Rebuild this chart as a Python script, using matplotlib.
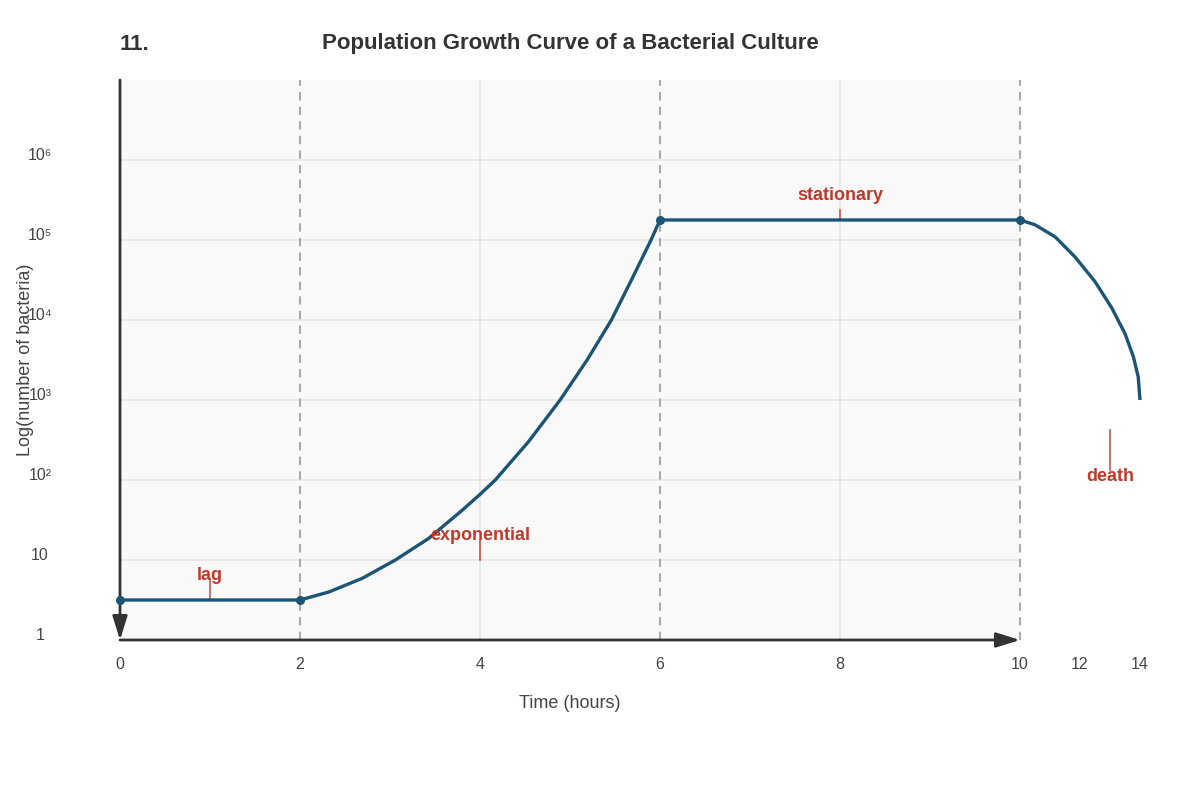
import numpy as np
import matplotlib
matplotlib.use('Agg')
import matplotlib.pyplot as plt

plt.rcParams['font.family'] = ['Liberation Sans', 'DejaVu Sans']

# phase curve (time in hours, log10 of bacteria count)
lag_t = [0, 2]
lag_v = [0.5, 0.5]
exp_t = [2.0, 2.32, 2.69, 3.06, 3.43, 3.8, 4.0, 4.17, 4.54, 4.89, 5.19, 5.46, 5.7, 5.9, 6.0]
exp_v = [0.5, 0.6, 0.77, 1.0, 1.27, 1.62, 1.82, 2.0, 2.48, 3.0, 3.5, 4.0, 4.54, 5.0, 5.25]
stat_t = [6, 10]
stat_v = [5.25, 5.25]
death_t = [10, 10.5, 11.17, 11.83, 12.5, 13.06, 13.5, 13.78, 13.94, 14.0]
death_v = [5.25, 5.19, 5.04, 4.79, 4.48, 4.15, 3.83, 3.54, 3.29, 3.0]

# phase boundaries
bound_t = [0, 2, 6, 10]
bound_v = [0.5, 0.5, 5.25, 5.25]

x_ticks = [0, 2, 4, 6, 8, 10, 12, 14]
y_ticks = [0, 1, 2, 3, 4, 5, 6]
y_labels = ['1', '10', '10²', '10³', '10⁴', '10⁵', '10⁶']

phase_names = ['lag', 'exponential', 'stationary', 'death']
phase_t = [1, 4, 8, 13]

LINE = '#1b5474'
RED = '#c0392b'
AXIS = '#333333'


def fwd(t):
    # hours after 10 are drawn at a third of the width
    t = np.asarray(t, dtype=float)
    return np.where(t <= 10, t, 10 + (t - 10) / 3)


def inv(p):
    p = np.asarray(p, dtype=float)
    return np.where(p <= 10, p, 10 + (p - 10) * 3)


fig = plt.figure(figsize=(12, 8), dpi=100)
ax = fig.add_axes([0.1, 0.2, 0.85, 0.7])
ax.set_xscale('function', functions=(fwd, inv))
ax.set_xlim(0, 14)
ax.set_ylim(0, 7)
ax.set_facecolor('none')
for s in ax.spines.values():
    s.set_visible(False)

# plot background and grid only over 0-10 h
ax.axvspan(0, 10, color='#f9f9f9', zorder=0, lw=0)
ax.hlines(y_ticks[1:], 0, 10, colors='#e6e6e6', lw=1.2, zorder=1)
ax.vlines([4, 8], 0, 7, colors='#e6e6e6', lw=1.2, zorder=1)
ax.vlines([2, 6, 10], 0, 7, colors='#aaaaaa', linestyles=(0, (4, 3)), lw=1.5, zorder=2)

# axis lines with arrowheads
arrow = dict(arrowstyle='-|>,head_length=0.8,head_width=0.25', mutation_scale=18,
             color=AXIS, lw=2, shrinkA=0, shrinkB=0)
ax.annotate('', xy=(10, 0), xytext=(0, 0), arrowprops=arrow, annotation_clip=False)
ax.annotate('', xy=(0, 0), xytext=(0, 7), arrowprops=arrow, annotation_clip=False)

# growth curve
curve_t = lag_t + exp_t[1:] + stat_t[1:] + death_t[1:]
curve_v = lag_v + exp_v[1:] + stat_v[1:] + death_v[1:]
ax.plot(curve_t, curve_v, color=LINE, lw=2.4, solid_capstyle='butt',
        solid_joinstyle='round', zorder=4, clip_on=False)
ax.scatter(bound_t, bound_v, s=30, color=LINE, zorder=5, clip_on=False)

# phase labels with small leader lines
leaders = [(0.525, 0.75, 0.75),
           (1.0, 1.25, 1.25),
           (5.25, 5.375, 5.5),
           (2.625, 2.125, 1.99)]
for name, t, (y0, y1, ty) in zip(phase_names, phase_t, leaders):
    ax.plot([t, t], [y0, y1], color=RED, lw=1.2, alpha=0.85, zorder=3)
    ax.text(t, ty, name, color=RED, fontsize=13, fontweight='bold',
            ha='center', va='baseline', zorder=6)

# ticks
ax.set_xticks(x_ticks)
ax.set_xticklabels([str(t) for t in x_ticks])
ax.set_yticks(y_ticks)
ax.set_yticklabels(y_labels)
ax.tick_params(axis='x', length=0, pad=12, labelsize=11.5, labelcolor='#444444')
ax.tick_params(axis='y', length=0, pad=57.6, labelsize=11.5, labelcolor='#444444')
for lab in ax.get_yticklabels():
    lab.set_horizontalalignment('center')
    lab.set_verticalalignment('baseline')

fig.text(570 / 1200, 1 - 704 / 800, 'Time (hours)', ha='center', va='center',
         fontsize=13, color='#444444')
fig.text(26 / 1200, 1 - 360 / 800, 'Log(number of bacteria)', ha='center', va='center',
         rotation=90, fontsize=13, color='#444444')

fig.text(570 / 1200, 1 - 44 / 800, 'Population Growth Curve of a Bacterial Culture',
         ha='center', va='center', fontsize=16, fontweight='bold', color='#333333')
fig.text(120 / 1200, 1 - 44 / 800, '11.', ha='left', va='center',
         fontsize=16, fontweight='bold', color='#333333')

fig.savefig('out.png', dpi=100)
